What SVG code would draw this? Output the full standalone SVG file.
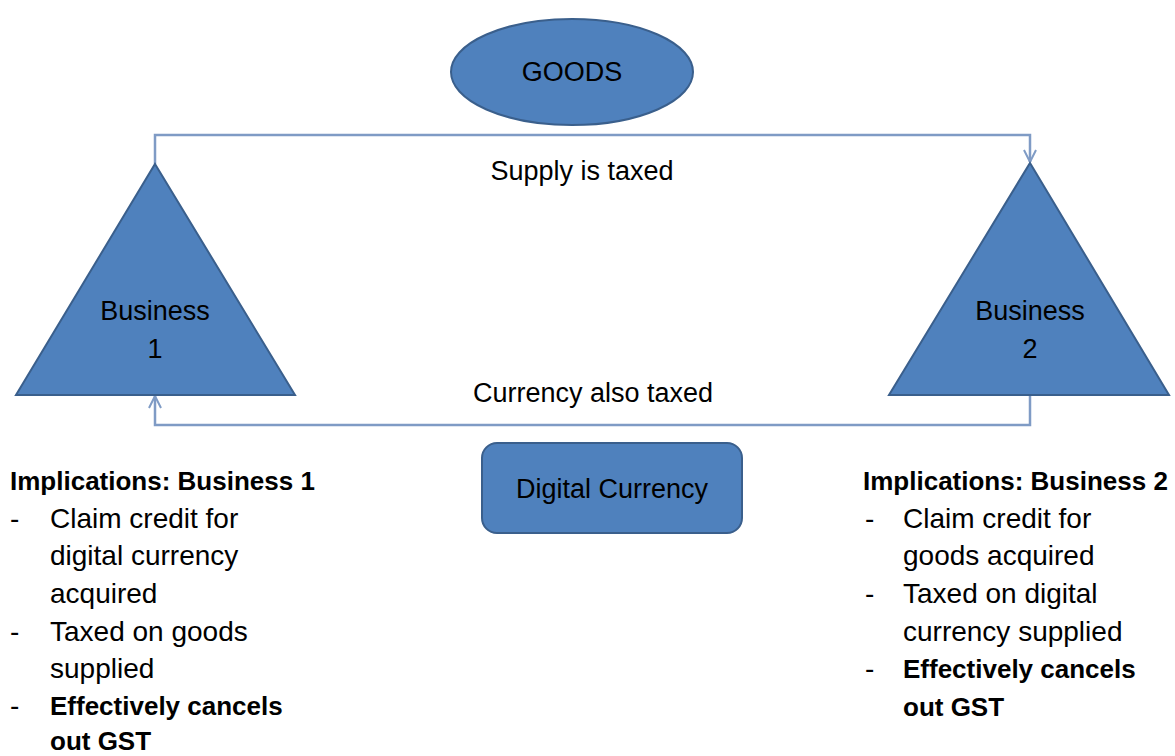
<svg xmlns="http://www.w3.org/2000/svg" width="1175" height="756" viewBox="0 0 1175 756">
<style>
.shape{fill:#4f81bd;stroke:#3a5f8c;stroke-width:2}
.lbl{font-family:"Liberation Sans",Arial,sans-serif;font-size:27px;fill:#000;text-anchor:middle}
.body{font-family:"Liberation Sans",Arial,sans-serif;font-size:28px;fill:#000}
.b{font-weight:bold;font-size:26px}
.conn{fill:none;stroke:#7f9bc5;stroke-width:2.5}
</style>
<defs>
<marker id="arr" viewBox="0 0 14 14" refX="13" refY="7" markerWidth="14" markerHeight="14" markerUnits="userSpaceOnUse" orient="auto">
<path d="M1,1 L13,7 L1,13" fill="none" stroke="#7f9bc5" stroke-width="2"/>
</marker>
</defs>
<rect width="1175" height="756" fill="#fff"/>
<g id="connectors">
<path class="conn" d="M155,164 V135 H1030 V162" marker-end="url(#arr)"/>
<path class="conn" d="M1030,395 V425 H155 V396" marker-end="url(#arr)"/>
<text class="lbl" x="582" y="180" font-size="28">Supply is taxed</text>
<text class="lbl" x="593" y="402" font-size="28">Currency also taxed</text>
</g>
<g id="goods">
<ellipse class="shape" cx="572" cy="72" rx="121" ry="53"/>
<text class="lbl" x="572" y="81">GOODS</text>
</g>
<g id="business1">
<polygon class="shape" points="155,164 295,395 16,395"/>
<text class="lbl" x="155" y="320">Business</text>
<text class="lbl" x="155" y="358">1</text>
</g>
<g id="business2">
<polygon class="shape" points="1030,163 1169,395 889,395"/>
<text class="lbl" x="1030" y="320">Business</text>
<text class="lbl" x="1030" y="358">2</text>
</g>
<g id="digital">
<rect class="shape" x="482" y="443" width="260" height="90" rx="15"/>
<text class="lbl" x="612" y="498">Digital Currency</text>
</g>
<g id="implications1">
<text class="body b" x="10" y="490">Implications: Business 1</text>
<text class="body" x="10" y="528">-</text><text class="body" x="50" y="528">Claim credit for</text>
<text class="body" x="50" y="565">digital currency</text>
<text class="body" x="50" y="603">acquired</text>
<text class="body" x="10" y="641">-</text><text class="body" x="50" y="641">Taxed on goods</text>
<text class="body" x="50" y="678">supplied</text>
<text class="body" x="10" y="715">-</text><text class="body b" x="50" y="715">Effectively cancels</text>
<text class="body b" x="50" y="750">out GST</text>
</g>
<g id="implications2">
<text class="body b" x="863" y="490">Implications: Business 2</text>
<text class="body" x="865" y="528">-</text><text class="body" x="903" y="528">Claim credit for</text>
<text class="body" x="903" y="565">goods acquired</text>
<text class="body" x="865" y="603">-</text><text class="body" x="903" y="603">Taxed on digital</text>
<text class="body" x="903" y="641">currency supplied</text>
<text class="body" x="865" y="678">-</text><text class="body b" x="903" y="678">Effectively cancels</text>
<text class="body b" x="903" y="716">out GST</text>
</g>
</svg>
